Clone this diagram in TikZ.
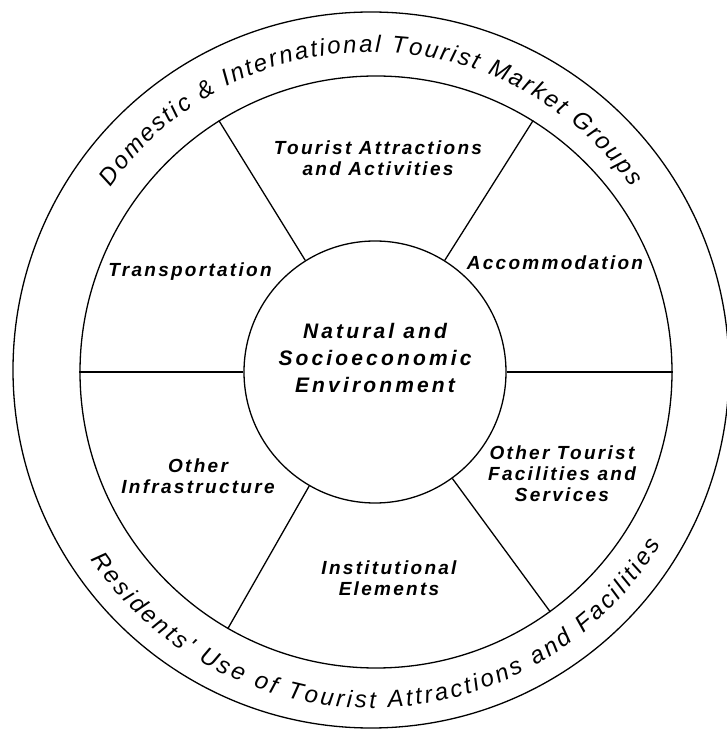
\documentclass[tikz,border=0pt]{standalone}
\usepackage{fontspec}
\setmainfont{Liberation Sans}
\newfontfamily\labelfont[LetterSpace=12]{Liberation Sans}
\newfontfamily\hubfont[LetterSpace=15]{Liberation Sans}
\newfontfamily\ringfont{Liberation Sans}
\usetikzlibrary{decorations.text}

\definecolor{wheelink}{HTML}{000000}

\begin{document}
\begin{tikzpicture}[
  x=1pt, y=1pt,
  line width=1.3pt,
  wheel/.style={circle, draw=wheelink, inner sep=0pt},
  sector/.style={align=center, text=wheelink,
    font=\labelfont\bfseries\itshape\fontsize{19}{21}\selectfont},
]
\useasboundingbox (0,0) rectangle (727,732);

% three rings: market groups, sectors, environment
\node[wheel, minimum size=716pt] (market) at (371,362) {};
\node[wheel, minimum size=592pt] (sectors) at (376,360) {};
\node[wheel, minimum size=262pt] (hub) at (375,360) {};

\foreach \a in {0,58.5,122,180,-120,-54.5}
  \draw[wheelink] (hub.\a) -- (sectors.\a);

\node[sector, font=\hubfont\bfseries\itshape\fontsize{21}{27}\selectfont]
  (env) at (375,374) {Natural and\\Socioeconomic\\Environment};

\node[sector] (attract) at (378,574) {Tourist Attractions\\and Activities};
\node[sector] (accom) at (555,469) {Accommodation};
\node[sector] (transp) at (190,460) {Transportation};
\node[sector] (otherfac) at (562,258) {Other Tourist\\Facilities and\\Services};
\node[sector] (infra) at (198,256) {Other\\Infrastructure};
\node[sector] (inst) at (389,154) {Institutional\\Elements};

% captions along the outer ring
\path[decorate, decoration={text along path, text align={fit to path},
    text={|\ringfont\itshape\fontsize{24}{24}\selectfont|Domestic {\&} International Tourist Market Groups}}]
  ([shift={(145:318)}]market.center) arc[start angle=145, end angle=35, radius=318];
\path[decorate, decoration={text along path, text align={fit to path},
    text={|\ringfont\itshape\fontsize{24}{24}\selectfont|Residents' Use of Tourist Attractions and Facilities}}]
  ([shift={(214:338)}]market.center) arc[start angle=214, end angle=329, radius=338];

\end{tikzpicture}
\end{document}
